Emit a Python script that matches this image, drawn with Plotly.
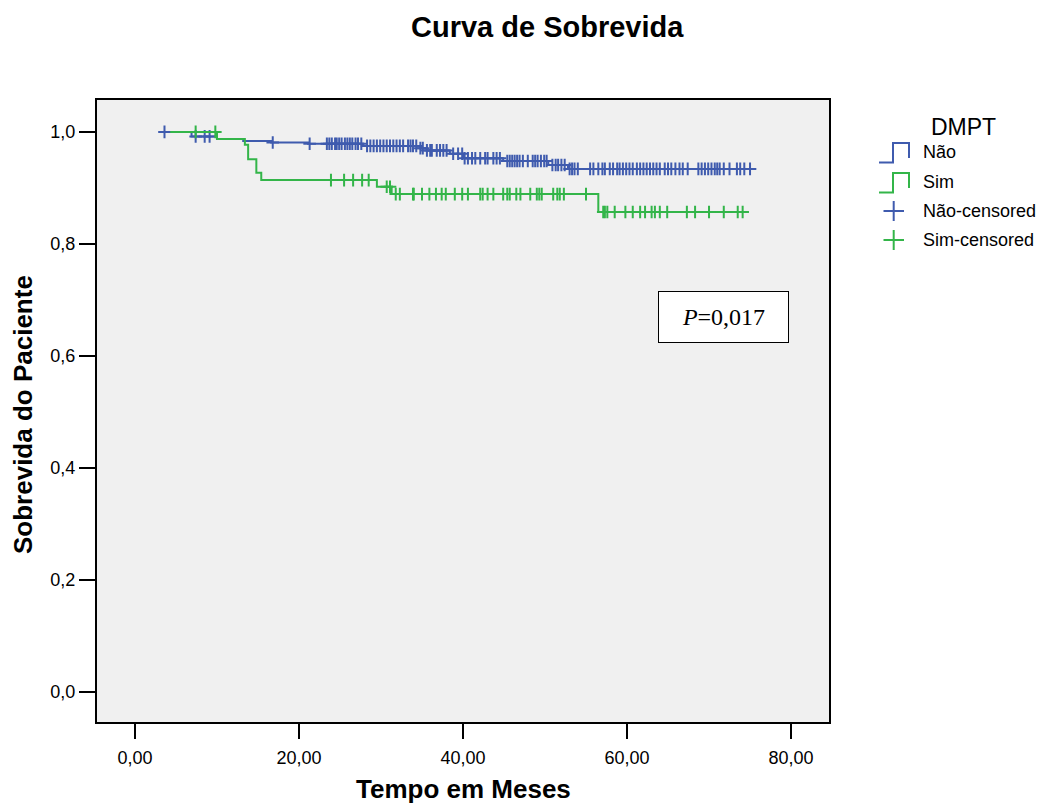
import numpy as np
import plotly.graph_objects as go

# ---------------- data ----------------
nao_step_t = [3.6, 6.9, 10.0, 13.2, 16.6, 21.1, 27.8, 34.8, 35.6, 38.4, 40.0, 44.9, 50.4, 52.8, 75.6]
nao_step_s = [1.000, 0.992, 0.9875, 0.984, 0.981, 0.979, 0.975, 0.971, 0.967, 0.961, 0.953, 0.948, 0.941, 0.934, 0.934]

sim_step_t = [4.3, 10.0, 13.4, 13.8, 14.8, 15.4, 29.5, 31.3, 56.5, 74.8]
sim_step_s = [1.000, 0.9875, 0.977, 0.951, 0.927, 0.914, 0.902, 0.889, 0.857, 0.857]

nao_censored = [3.6, 7.4, 8.5, 9.1, 16.8, 21.3,
                23.4, 23.7, 24.0, 24.4, 24.6, 24.9, 25.2, 25.6, 25.9, 26.2, 26.5, 26.9, 27.2, 27.6,
                28.3, 28.7, 29.1, 29.5, 29.9, 30.3, 30.7, 31.1, 31.5, 31.9, 32.3, 32.7,
                33.3, 33.6, 33.9, 34.3, 34.8, 35.1, 35.6, 36.0, 36.2, 36.8, 37.2, 37.6, 38.0,
                38.8, 39.4, 39.9, 40.2, 40.6, 41.1, 41.5, 42.1, 42.7, 43.0, 43.7, 44.1, 44.5,
                45.4, 45.7, 46.0, 46.3, 46.6, 46.9, 47.3, 47.9, 48.5, 48.8, 49.1, 49.5, 49.9, 50.2,
                50.9, 51.3, 51.6, 52.0, 52.4, 53.0, 53.3, 53.6, 54.0, 55.5, 55.9, 56.5, 57.0, 57.3,
                57.9, 58.3, 58.8, 59.1, 59.5, 59.9, 60.3, 60.7, 61.2, 61.6, 62.0, 62.4, 62.8, 63.2,
                63.6, 64.0, 64.6, 65.0, 65.4, 65.9, 66.4, 66.8, 67.4, 68.7, 69.1, 69.5, 69.9, 70.3,
                70.7, 71.0, 71.3, 71.8, 72.5, 73.4, 73.8, 74.3, 75.0]

sim_censored = [7.4, 9.8, 23.9, 25.5, 26.6, 27.7, 28.5, 30.7, 31.1, 31.8, 32.3, 33.9, 34.0,
                35.0, 35.9, 36.7, 37.4, 37.9, 39.0, 39.9, 40.6, 42.1, 42.4, 43.0, 43.7, 44.9,
                45.4, 45.7, 46.5, 47.0, 48.2, 49.0, 49.3, 49.6, 51.0, 51.5, 51.8, 52.3, 55.0,
                57.1, 57.3, 57.6, 58.5, 59.8, 60.7, 61.6, 62.2, 63.0, 63.4, 64.0, 64.9, 67.3,
                68.3, 70.0, 71.8, 73.5, 74.1]

x_tickvals = [0, 20, 40, 60, 80]
x_ticktext = ["0,00", "20,00", "40,00", "60,00", "80,00"]
y_tickvals = [0.0, 0.2, 0.4, 0.6, 0.8, 1.0]
y_ticktext = ["0,0", "0,2", "0,4", "0,6", "0,8", "1,0"]

group_names = ["Não", "Sim"]
p_text = "<i>P</i>=0,017"

# ---------------- styling ----------------
BLUE = "#3f5bae"
GREEN = "#33b549"
SANS = "Liberation Sans, Arial, sans-serif"
SERIF = "Liberation Serif, Times New Roman, serif"

W, H = 1044, 805
L, R, T, B = 97, 829, 100, 722  # plot area in pixels


def px(xp):
    return (xp - L) / (R - L)


def py(yp):
    return (B - yp) / (B - T)


def level_at(step_t, step_s, times):
    st = np.asarray(step_t)
    ss = np.asarray(step_s)
    idx = np.searchsorted(st, np.asarray(times), side="right") - 1
    idx = np.clip(idx, 0, len(ss) - 1)
    return ss[idx]


fig = go.Figure()

for name, st, ss, cens, col in [
    (group_names[0], nao_step_t, nao_step_s, nao_censored, BLUE),
    (group_names[1], sim_step_t, sim_step_s, sim_censored, GREEN),
]:
    fig.add_trace(go.Scatter(
        x=st, y=ss, mode="lines", name=name,
        line=dict(color=col, width=2, shape="hv"),
        showlegend=False, hoverinfo="skip",
    ))
    fig.add_trace(go.Scatter(
        x=cens, y=level_at(st, ss, cens), mode="markers", name=name + "-censored",
        marker=dict(symbol="cross-thin", size=9, line=dict(color=col, width=2)),
        showlegend=False,
    ))

fig.update_layout(
    width=W, height=H,
    margin=dict(l=L, r=W - R, t=T, b=H - B),
    paper_bgcolor="white",
    plot_bgcolor="#f0f0f0",
    font=dict(family=SANS, size=18, color="black"),
    showlegend=False,
)

fig.update_xaxes(
    range=[-4.63, 84.63], tickvals=x_tickvals, ticktext=x_ticktext,
    showgrid=False, zeroline=False,
    showline=True, linecolor="black", linewidth=2, mirror=True,
    ticks="outside", ticklen=15, tickwidth=2, tickcolor="black",
    tickfont=dict(family=SANS, size=18), ticklabelstandoff=3,
)
fig.update_yaxes(
    range=[-0.0536, 1.057], tickvals=y_tickvals, ticktext=y_ticktext,
    showgrid=False, zeroline=False,
    showline=True, linecolor="black", linewidth=2, mirror=True,
    ticks="outside", ticklen=16, tickwidth=2, tickcolor="black",
    tickfont=dict(family=SANS, size=18),
)

annotations = [
    dict(text="<b>Curva de Sobrevida</b>", xref="paper", yref="paper",
         x=px(547), y=py(27), xanchor="center", yanchor="middle", showarrow=False,
         font=dict(family=SANS, size=29)),
    dict(text="<b>Tempo em Meses</b>", xref="paper", yref="paper",
         x=px(463), y=py(789), xanchor="center", yanchor="middle", showarrow=False,
         font=dict(family=SANS, size=26)),
    dict(text="<b>Sobrevida do Paciente</b>", xref="paper", yref="paper",
         x=px(23), y=py(415), xanchor="center", yanchor="middle", showarrow=False,
         textangle=-90, font=dict(family=SANS, size=26)),
    dict(text=p_text, xref="x", yref="y",
         x=71.77, y=0.670, xanchor="center", yanchor="middle", showarrow=False,
         font=dict(family=SERIF, size=24), bgcolor="white",
         bordercolor="black", borderwidth=1, borderpad=0, width=129, height=50),
    dict(text="DMPT", xref="paper", yref="paper",
         x=px(929), y=py(127), xanchor="left", yanchor="middle", showarrow=False,
         font=dict(family=SANS, size=23)),
]

legend_items = [
    (group_names[0], BLUE, "step", 152),
    (group_names[1], GREEN, "step", 182),
    (group_names[0] + "-censored", BLUE, "plus", 211),
    (group_names[1] + "-censored", GREEN, "plus", 240),
]

shapes = []
for label, col, kind, yc in legend_items:
    annotations.append(dict(text=label, xref="paper", yref="paper",
                            x=px(921), y=py(yc), xanchor="left", yanchor="middle",
                            showarrow=False, font=dict(family=SANS, size=18)))
    if kind == "step":
        y_bot = yc + 10.5
        y_top = yc - 9
        path = (f"M {px(879)},{py(y_bot)} L {px(893)},{py(y_bot)} L {px(893)},{py(y_top)} "
                f"L {px(909)},{py(y_top)} L {px(909)},{py(yc + 6)}")
        shapes.append(dict(type="path", xref="paper", yref="paper", path=path,
                           line=dict(color=col, width=2)))
    else:
        shapes.append(dict(type="line", xref="paper", yref="paper",
                           x0=px(883.5), x1=px(904), y0=py(yc), y1=py(yc),
                           line=dict(color=col, width=2)))
        shapes.append(dict(type="line", xref="paper", yref="paper",
                           x0=px(893.7), x1=px(893.7), y0=py(yc - 10), y1=py(yc + 10),
                           line=dict(color=col, width=2)))

fig.update_layout(annotations=annotations, shapes=shapes)

fig.write_html(
    "out.html",
    config={"displayModeBar": False},
    post_script="document.body.style.margin='0px';document.body.style.overflow='hidden';",
)
